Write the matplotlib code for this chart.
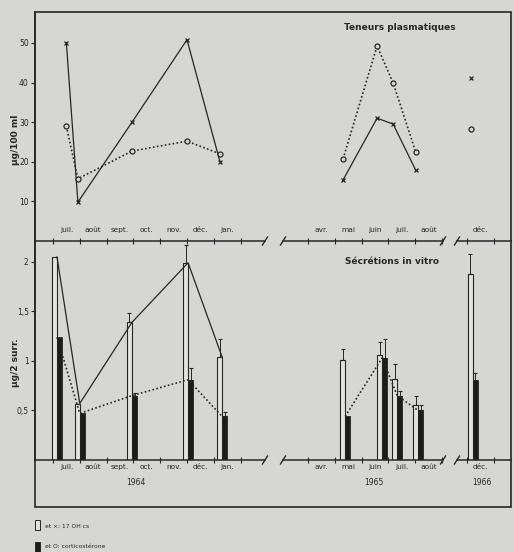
import matplotlib
matplotlib.use("agg")
import matplotlib.pyplot as plt
from matplotlib.patches import Rectangle
from matplotlib.ticker import FixedLocator, FuncFormatter, NullFormatter
import matplotlib.transforms as mtransforms

# Time axis: months counted from 1 July 1964 (0 = 1 July 1964)
month_labels_1964 = ["juil.", "août", "sept.", "oct.", "nov.", "déc.", "jan."]
month_labels_1965 = ["avr.", "mai", "juin", "juil.", "août"]
month_labels_1966 = ["déc."]
first_month_1964 = 0
first_month_1965 = 9
first_month_1966 = 29
year_labels = ["1964", "1965", "1966"]

# Plasma levels (µg/100 ml): x = 17 OH cs, o = corticostérone
plasma_t_1964 = [0.5, 0.93, 2.95, 5.0, 6.23]
plasma_oh_1964 = [50.0, 9.8, 30.0, 50.8, 20.0]
plasma_cort_1964 = [29.0, 15.7, 22.7, 25.2, 22.0]
plasma_t_1965 = [10.31, 11.58, 12.18, 13.02]
plasma_oh_1965 = [15.4, 31.0, 29.5, 17.9]
plasma_cort_1965 = [20.7, 49.2, 39.9, 22.5]
plasma_t_1966 = [29.15]
plasma_oh_1966 = [41.2]
plasma_cort_1966 = [28.3]

# In vitro secretion (µg/2 surr.), with upper error
secr_t_1964 = [0.15, 1.0, 2.95, 5.04, 6.31]
secr_oh_1964 = [2.05, 0.57, 1.39, 1.99, 1.04]
secr_oh_err_1964 = [0.0, 0.0, 0.09, 0.18, 0.18]
secr_cort_1964 = [1.24, 0.47, 0.65, 0.81, 0.44]
secr_cort_err_1964 = [0.0, 0.0, 0.03, 0.12, 0.04]
secr_t_1965 = [10.39, 11.77, 12.33, 13.11]
secr_oh_1965 = [1.01, 1.06, 0.82, 0.55]
secr_oh_err_1965 = [0.11, 0.13, 0.15, 0.10]
secr_cort_1965 = [0.44, 1.03, 0.65, 0.50]
secr_cort_err_1965 = [0.0, 0.19, 0.05, 0.05]
secr_t_1966 = [29.22]
secr_oh_1966 = [1.88]
secr_oh_err_1966 = [0.20]
secr_cort_1966 = [0.81]
secr_cort_err_1966 = [0.07]

W, H = 514, 552
INK = "#262626"
PAPER = "#d6d6d4"
BAR_W = 0.19
DOTTED = (0, (1, 1.4))

periods = [
    dict(xlim=(-0.67, 7.91), px=(35, 265), months=month_labels_1964, first=first_month_1964,
         year=year_labels[0], year_x=3.1,
         pt=plasma_t_1964, poh=plasma_oh_1964, pco=plasma_cort_1964,
         st=secr_t_1964, soh=secr_oh_1964, soh_e=secr_oh_err_1964,
         sco=secr_cort_1964, sco_e=secr_cort_err_1964, solid=True),
    dict(xlim=(8.07, 14.04), px=(283, 443), months=month_labels_1965, first=first_month_1965,
         year=year_labels[1], year_x=11.45,
         pt=plasma_t_1965, poh=plasma_oh_1965, pco=plasma_cort_1965,
         st=secr_t_1965, soh=secr_oh_1965, soh_e=secr_oh_err_1965,
         sco=secr_cort_1965, sco_e=secr_cort_err_1965, solid=False),
    dict(xlim=(28.63, 30.64), px=(457, 511), months=month_labels_1966, first=first_month_1966,
         year=year_labels[2], year_x=29.55,
         pt=plasma_t_1966, poh=plasma_oh_1966, pco=plasma_cort_1966,
         st=secr_t_1966, soh=secr_oh_1966, soh_e=secr_oh_err_1966,
         sco=secr_cort_1966, sco_e=secr_cort_err_1966, solid=False),
]

plt.rcParams["font.family"] = ["DejaVu Sans"]
fig = plt.figure(figsize=(W / 100, H / 100), dpi=100, facecolor=PAPER)


def add_axes_px(x0, x1, ytop, ybot):
    return fig.add_axes([x0 / W, 1 - ybot / H, (x1 - x0) / W, (ybot - ytop) / H])


def style_segment(ax, p, first_col, last_col, inside_labels):
    ax.set_facecolor("none")
    for side in ("top", "right"):
        ax.spines[side].set_visible(False)
    ax.spines["bottom"].set_color(INK)
    ax.spines["bottom"].set_linewidth(1.1)
    ax.spines["left"].set_color(INK)
    ax.spines["left"].set_linewidth(1.1)
    if not first_col:
        ax.spines["left"].set_visible(False)
        ax.tick_params(axis="y", left=False, labelleft=False)
    ax.set_xlim(*p["xlim"])
    n = len(p["months"])
    ax.xaxis.set_major_locator(FixedLocator([p["first"] + i for i in range(n + 1)]))
    ax.xaxis.set_major_formatter(NullFormatter())
    ax.xaxis.set_minor_locator(FixedLocator([p["first"] + i + 0.5 for i in range(n)]))
    ax.xaxis.set_minor_formatter(FuncFormatter(lambda v, pos, m=p["months"]: m[pos]))
    ax.tick_params(axis="x", which="major", direction="inout", length=4, width=0.8, color=INK)
    ax.tick_params(axis="x", which="minor", length=0, labelsize=5.3, labelcolor=INK,
                   pad=-10 if inside_labels else 3)
    # axis break marks
    w = (p["px"][1] - p["px"][0])
    h = ax.bbox.height
    dx, dy = 2.5 / w, 4.0 / h
    ends = []
    if not first_col:
        ends.append(0.0)
    if not last_col:
        ends.append(1.0)
    for e in ends:
        ax.plot([e - dx, e + dx], [-dy, dy], transform=ax.transAxes, color=INK,
                lw=1.0, clip_on=False)


# plasma levels (top row)
for i, p in enumerate(periods):
    ax = add_axes_px(p["px"][0], p["px"][1], 12, 241)
    ax.set_ylim(0, 57.8)
    style_segment(ax, p, i == 0, i == len(periods) - 1, inside_labels=True)
    if i == 0:
        ax.set_yticks([10, 20, 30, 40, 50])
        ax.tick_params(axis="y", direction="out", length=3, width=0.8, color=INK,
                       labelsize=5.5, labelcolor=INK, pad=1.5)
    joined = len(p["pt"]) > 1
    ax.plot(p["pt"], p["poh"], color=INK, lw=0.9, ls="-" if joined else "none",
            marker="x", ms=3.5, mew=0.9)
    ax.plot(p["pt"], p["pco"], color=INK, lw=1.2, ls=DOTTED if joined else "none",
            marker="o", ms=3.6, mfc=PAPER, mec=INK, mew=0.9)

# in vitro secretion (bottom row)
for i, p in enumerate(periods):
    ax = add_axes_px(p["px"][0], p["px"][1], 241, 460)
    ax.set_ylim(0, 2.21)
    style_segment(ax, p, i == 0, i == len(periods) - 1, inside_labels=False)
    if i == 0:
        ax.set_yticks([0.5, 1, 1.5, 2])
        ax.yaxis.set_major_formatter(FuncFormatter(lambda v, pos: f"{v:g}".replace(".", ",")))
        ax.tick_params(axis="y", direction="out", length=3, width=0.8, color=INK,
                       labelsize=5.5, labelcolor=INK, pad=1.5)
    ax.bar(p["st"], p["soh"], width=-BAR_W, align="edge", facecolor="#e2e2e0",
           edgecolor=INK, linewidth=0.8, zorder=2)
    ax.bar(p["st"], p["sco"], width=BAR_W, align="edge", facecolor="#1c1c1c",
           edgecolor=INK, linewidth=0.6, zorder=2)
    for xs, ys, es, off in ((p["st"], p["soh"], p["soh_e"], -BAR_W / 2),
                            (p["st"], p["sco"], p["sco_e"], BAR_W / 2)):
        keep = [k for k, e in enumerate(es) if e > 0]
        if keep:
            ax.errorbar([xs[k] + off for k in keep], [ys[k] for k in keep],
                        yerr=[[0] * len(keep), [es[k] for k in keep]], fmt="none",
                        ecolor=INK, elinewidth=0.7, capsize=1.6, capthick=0.8, zorder=3)
    if len(p["st"]) > 1:
        if p["solid"]:
            ax.plot(p["st"], p["soh"], color=INK, lw=0.9, zorder=4)
        ax.plot(p["st"], p["sco"], color=INK, lw=1.2, ls=DOTTED, zorder=4)
    ax.text(p["year_x"], -0.105, p["year"], transform=mtransforms.blended_transform_factory(
        ax.transData, ax.transAxes), ha="center", va="center", fontsize=5.5, color=INK)

# y labels and panel titles
fig.text(15 / W, 1 - 140 / H, "µg/100 ml", rotation=90, ha="center", va="center",
         fontsize=6.5, color=INK, fontweight="bold")
fig.text(15 / W, 1 - 363 / H, "µg/2 surr.", rotation=90, ha="center", va="center",
         fontsize=6.5, color=INK, fontweight="bold")
fig.text(400 / W, 1 - 28 / H, "Teneurs plasmatiques", ha="center", va="center",
         fontsize=6.5, color=INK, fontweight="bold")
fig.text(392 / W, 1 - 262 / H, "Sécrétions in vitro", ha="center", va="center",
         fontsize=6.5, color=INK, fontweight="bold")

# outer frame
fig.add_artist(Rectangle((35 / W, 1 - 507 / H), (511 - 35) / W, (507 - 12) / H,
                         fill=False, edgecolor=INK, linewidth=1.2,
                         transform=fig.transFigure))

# legend keys
fig.add_artist(Rectangle((35 / W, 1 - 530 / H), 5 / W, 10 / H, facecolor="#e2e2e0",
                         edgecolor=INK, linewidth=0.7, transform=fig.transFigure))
fig.add_artist(Rectangle((35 / W, 1 - 552 / H), 5 / W, 10 / H, facecolor="#1c1c1c",
                         edgecolor=INK, linewidth=0.7, transform=fig.transFigure))
fig.text(45 / W, 1 - 526 / H, "et ×; 17 OH cs", ha="left", va="center", fontsize=4.3,
         color=INK)
fig.text(45 / W, 1 - 547 / H, "et O: corticostérone", ha="left", va="center",
         fontsize=4.3, color=INK)

fig.savefig("out.png", dpi=100, facecolor=PAPER)
